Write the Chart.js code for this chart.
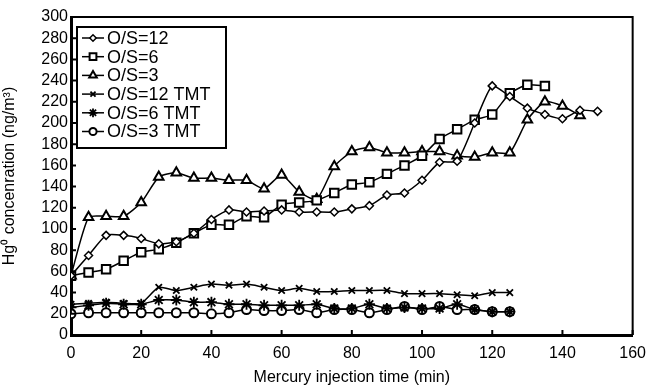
<!DOCTYPE html>
<html lang="en">
<head>
  <meta charset="UTF-8">
  <title>Hg0 concentration vs injection time</title>
  <script src="https://cdn.jsdelivr.net/npm/chart.js@4.4.1/dist/chart.umd.min.js"></script>
  <style>
  body {
    margin: 0;
    padding: 0;
    background: #fff;
  }
  .chart-container {
     position: relative;
     width: 655px;
     height: 387px;
  }
  </style>
</head>
<body>
<div class="chart-container">
  <canvas id="hgGraph"></canvas>
</div>

<script type="text/javascript">
  // minutes, one reading every 5 min
  var timeA = [0,5,10,15,20,25,30,35,40,45,50,55,60,65,70,75,80,85,90,95,100,105,110,115,120,125,130,135,140,145,150];
  var os12 = [56,75,94,94,91,86,88,96,109,118,116,117,118,116,116,116,119,122,132,134,146,163,164,200,235,225,214,208,204,212,211];
  var os6 = [56,59,62,70,78,81,87,96,104,104,112,111,123,125,127,134,142,144,152,160,169,185,194,203,208,228,236,235];
  var os3 = [56,111,112,112,125,149,153,148,148,146,146,138,151,135,128,159,173,177,172,172,173,173,169,168,172,172,203,220,216,207];
  var os12tmt = [29,30,31,30,30,45,42,45,48,47,48,45,42,44,41,41,42,42,42,39,39,39,38,37,40,40];
  var os6tmt = [26,28,30,29,29,33,33,31,31,29,29,28,28,28,29,25,25,29,25,26,25,25,29,24,22,22];
  var os3tmt = [20,21,21,21,21,21,21,21,20,21,24,23,23,24,21,24,24,21,24,27,24,27,24,24,22,22];

  var seriesNames = ['O/S=12','O/S=6','O/S=3','O/S=12 TMT','O/S=6 TMT','O/S=3 TMT'];

  function toPoints(vals){
    return vals.map(function(v, i){ return {x: timeA[i], y: v}; });
  }

  var FONT = '"Liberation Sans", Arial, Helvetica, sans-serif';

  // inward ticks + thin top/right frame
  var frameTicks = {
    id: 'frameTicks',
    afterDraw: function(chart){
      var ctx = chart.ctx, a = chart.chartArea;
      var xs = chart.scales.x, ys = chart.scales.y;
      ctx.save();
      ctx.strokeStyle = '#000';
      ctx.lineWidth = 2;
      ctx.beginPath();
      ctx.moveTo(a.left, a.top); ctx.lineTo(a.right, a.top); ctx.lineTo(a.right, a.bottom);
      ctx.stroke();
      ctx.beginPath();
      xs.ticks.forEach(function(t){
        var px = xs.getPixelForValue(t.value);
        ctx.moveTo(px, a.bottom); ctx.lineTo(px, a.bottom - 5);
      });
      ys.ticks.forEach(function(t){
        var py = ys.getPixelForValue(t.value);
        ctx.moveTo(a.left, py); ctx.lineTo(a.left + 5, py);
      });
      ctx.stroke();
      ctx.restore();
    }
  };

  // boxed legend in the top-left of the plot
  var boxLegend = {
    id: 'boxLegend',
    afterDraw: function(chart){
      var ctx = chart.ctx;
      var bx = 77, by = 27, bw = 149, bh = 121, row = 18.7;
      ctx.save();
      ctx.fillStyle = '#fff';
      ctx.fillRect(bx, by, bw, bh);
      ctx.strokeStyle = '#000';
      ctx.lineWidth = 2;
      ctx.strokeRect(bx, by, bw, bh);
      ctx.font = '18px ' + FONT;
      ctx.textBaseline = 'middle';
      chart.data.datasets.forEach(function(ds, i){
        var y = by + 11 + i * row;
        ctx.strokeStyle = '#000';
        ctx.lineWidth = 1.5;
        ctx.beginPath();
        ctx.moveTo(bx + 5, y); ctx.lineTo(bx + 27, y);
        ctx.stroke();
        ctx.fillStyle = '#fff';
        ctx.lineWidth = ds.pointBorderWidth;
        Chart.helpers.drawPoint(ctx, {pointStyle: ds.pointStyle, radius: ds.pointRadius * 0.8, rotation: 0, borderWidth: ds.pointBorderWidth}, bx + 16, y);
        ctx.fillStyle = '#000';
        ctx.fillText(ds.label, bx + 30, y + 1);
      });
      ctx.restore();
    }
  };

  function mk(label, vals, style, radius, bw){
    return {
      label: label,
      data: toPoints(vals),
      borderColor: '#000',
      borderWidth: 1.5,
      backgroundColor: '#fff',
      pointBackgroundColor: '#fff',
      pointBorderColor: '#000',
      pointStyle: style,
      pointRadius: radius,
      pointBorderWidth: bw,
      tension: 0.2,
      fill: false
    };
  }

  var datasets = [
    mk(seriesNames[0], os12, 'rectRot', 4, 1.5),
    mk(seriesNames[1], os6, 'rect', 6, 2),
    mk(seriesNames[2], os3, 'triangle', 5.5, 2),
    mk(seriesNames[3], os12tmt, 'crossRot', 4.5, 1.8),
    mk(seriesNames[4], os6tmt, 'star', 5.5, 1.8),
    mk(seriesNames[5], os3tmt, 'circle', 4.5, 2)
  ];

  var ctx = document.getElementById('hgGraph');
  var HgGraph = new Chart(ctx, {
    type: 'line',
    data: { datasets: datasets },
    plugins: [frameTicks, boxLegend],
    options: {
      responsive: true,
      maintainAspectRatio: false,
      animation: false,
      layout: { padding: { left: 0, right: 16, top: 17, bottom: 0 } },
      plugins: {
        legend: { display: false },
        tooltip: { enabled: false }
      },
      scales: {
        x: {
          type: 'linear',
          min: 0, max: 160,
          afterFit: function(s){ s.height = 52; },
          ticks: { stepSize: 20, autoSkip: false, color: '#000', font: { family: FONT, size: 16 }, padding: 9, maxRotation: 0 },
          grid: { display: false, drawTicks: false },
          border: { display: true, color: '#000', width: 3 },
          title: { display: true, text: 'Mercury injection time (min)', color: '#000', font: { family: FONT, size: 16 }, padding: { top: 1, bottom: 0 } }
        },
        y: {
          min: 0, max: 300,
          afterFit: function(s){ s.width = 71; },
          ticks: { stepSize: 20, autoSkip: false, color: '#000', font: { family: FONT, size: 16 }, padding: 3 },
          grid: { display: false, drawTicks: false },
          border: { display: true, color: '#000', width: 3 },
          title: { display: true, text: 'Hg\u2070 concenration (ng/m\u00B3)', color: '#000', font: { family: FONT, size: 16 }, padding: { top: 0, bottom: 0 } }
        }
      }
    }
  });
</script>
</body>
</html>
